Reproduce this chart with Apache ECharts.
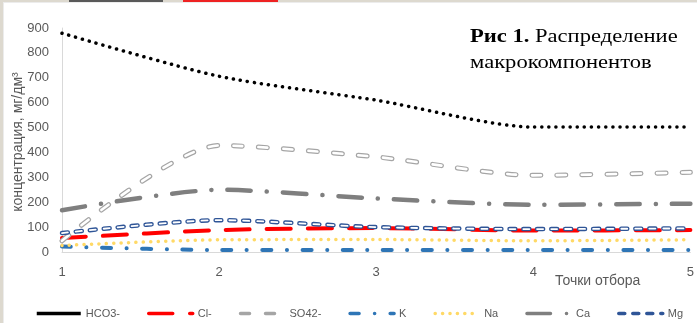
<!DOCTYPE html>
<html>
<head>
<meta charset="utf-8">
<script src="https://cdn.jsdelivr.net/npm/echarts@6/dist/echarts.min.js"></script>
<style>
html,body{margin:0;padding:0;background:#fff;}
#c{width:697px;height:323px;}
</style>
</head>
<body>
<div id="c"></div>
<script>
const categories = ['1', '2', '3', '4', '5'];
const hco3 = [879, 706, 610, 502, 502];
const cl = [56, 88, 96, 86, 88];
const so4 = [45, 428, 382, 308, 320];
const k = [22, 8, 8, 8, 8];
const na = [26, 49, 50, 45, 49];
const ca = [168, 250, 215, 190, 194];
const mg = [76, 128, 100, 92, 95];
const seriesNames = ['HCO3-', 'Cl-', 'SO42-', 'K', 'Na', 'Ca', 'Mg'];
const yTicks = {min: 0, max: 900, interval: 100};

const chart = echarts.init(document.getElementById('c'), null, {renderer: 'canvas'});
const SM = 0.25;
function line(name, data, ls, z) {
  return {name: name, type: 'line', data: data, smooth: SM, symbol: 'none', showSymbol: false,
    lineStyle: ls, itemStyle: {color: ls.color}, z: z || 2, animation: false};
}
const font = 'Liberation Sans';
chart.setOption({
  animation: false,
  backgroundColor: '#ffffff',
  grid: {left: 62, right: 4, top: 28, bottom: 71, containLabel: false},
  xAxis: {type: 'category', data: categories, boundaryGap: false,
    axisLine: {lineStyle: {color: '#d9d9d9', width: 1}}, axisTick: {show: false},
    axisLabel: {color: '#595959', fontSize: 13, fontFamily: font, margin: 14}},
  yAxis: {type: 'value', min: yTicks.min, max: yTicks.max, interval: yTicks.interval,
    axisLine: {show: true, lineStyle: {color: '#d9d9d9', width: 1}}, axisTick: {show: false},
    splitLine: {show: false},
    axisLabel: {color: '#595959', fontSize: 13, fontFamily: font, margin: 13}},
  legend: {left: 35, top: 308, width: 662, itemWidth: 44, itemHeight: 8, itemGap: 27, padding: 0,
    itemStyle: {opacity: 0},
    lineStyle: {width: 3.5},
    textStyle: {color: '#595959', fontSize: 11, fontFamily: font},
    data: [
      {name: 'HCO3-', lineStyle: {type: 'solid', cap: 'butt', width: 3.5}},
      {name: 'Cl-'}, {name: 'SO42-'}, {name: 'K'}, {name: 'Na'}, {name: 'Ca'}, {name: 'Mg'}
    ]},
  series: [
    line(seriesNames[0], hco3, {color: '#000000', width: 3.5, type: [0.1, 7], cap: 'round'}, 2),
    line(seriesNames[1], cl, {color: '#ff0000', width: 4, type: [24, 17], cap: 'round'}, 3),
    line(seriesNames[2], so4, {color: '#a5a5a5', width: 5, type: [9, 16], cap: 'round'}, 4),
    line('so4_inner', so4, {color: '#ffffff', width: 2.6, type: [9, 16], cap: 'round'}, 5),
    line(seriesNames[3], k, {color: '#2e75b6', width: 4, type: [9, 15.5, 0.1, 15.5], cap: 'round'}, 6),
    line(seriesNames[4], na, {color: '#ffd966', width: 3.5, type: [0.1, 7.3], cap: 'round'}, 7),
    line(seriesNames[5], ca, {color: '#7f7f7f', width: 4.5, type: [23.5, 16, 0.1, 16], cap: 'round'}, 8),
    line(seriesNames[6], mg, {color: '#2f5597', width: 4.5, type: [6, 8], cap: 'round'}, 9),
    line('mg_inner', mg, {color: '#ffffff', width: 1.8, type: [6, 8], cap: 'round'}, 10)
  ],
  graphic: [
    {type: 'rect', shape: {x: 0, y: 0, width: 3, height: 323}, style: {fill: '#ddd9cf'}, silent: true},
    {type: 'rect', shape: {x: 0, y: 0, width: 697, height: 2}, style: {fill: '#ddd9cf'}, silent: true},
    {type: 'rect', shape: {x: 3, y: 2, width: 1, height: 321}, style: {fill: '#ececec'}, silent: true},
    {type: 'rect', shape: {x: 3, y: 2, width: 694, height: 1}, style: {fill: '#ececec'}, silent: true},
    {type: 'rect', shape: {x: 69, y: 0, width: 94, height: 2}, style: {fill: '#595959'}, silent: true},
    {type: 'rect', shape: {x: 183, y: 0, width: 95, height: 2}, style: {fill: '#ee2222'}, silent: true},
    {type: 'text', x: 470, y: 24, scaleX: 1.22, silent: true,
      style: {text: '{b|Рис 1.} Распределение\nмакрокомпонентов', fill: '#000', font: '18.5px "Liberation Serif"',
        lineHeight: 26,
        rich: {b: {fontWeight: 'bold', fontFamily: 'Liberation Serif', fontSize: 18.5, fill: '#000'}}}},
    {type: 'text', left: 555, top: 274, silent: true,
      style: {text: 'Точки отбора', fill: '#595959', font: '14px "Liberation Sans"'}},
    {type: 'text', x: 18, y: 142, rotation: Math.PI / 2, silent: true,
      style: {text: 'концентрация, мг/дм³', fill: '#595959', font: '14px "Liberation Sans"',
        align: 'center', verticalAlign: 'middle'}}
  ]
});
</script>
</body>
</html>
